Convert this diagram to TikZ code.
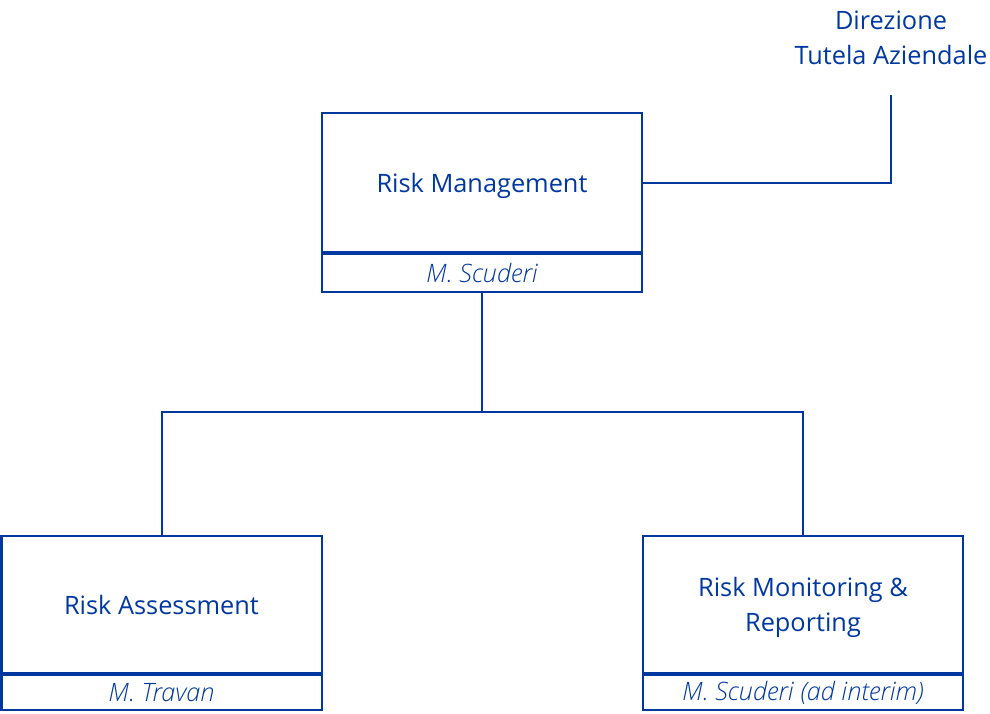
\documentclass[tikz,border=0pt]{standalone}
\usepackage{fontspec}
\setmainfont{Open Sans}
\newfontfamily\lightfont{Open Sans Light}
\usetikzlibrary{positioning}
\definecolor{orgblue}{RGB}{0,56,160}

\begin{document}
\begin{tikzpicture}[
    x=0.75pt, y=-0.75pt,
    node distance=0pt,
    unitbox/.style={draw=orgblue, line width=1.5pt, rectangle, align=center, text=orgblue, minimum width=240pt, minimum height=104pt, inner sep=0pt, text depth=0pt, font=\fontsize{19}{26}\selectfont},
    headbox/.style={draw=orgblue, line width=1.5pt, rectangle, text=orgblue, minimum width=240pt, minimum height=28.5pt, inner sep=0pt, font=\fontsize{19}{22}\selectfont\lightfont\itshape},
    link/.style={draw=orgblue, line width=1.5pt},
    divider/.style={draw=orgblue, line width=2.6pt}
]
\useasboundingbox (0,0) rectangle (990,714);

% Top unit
\node[unitbox] (riskman) at (482,182.5) {Risk Management};
\node[headbox, below=of riskman] (riskmanhead) {M. Scuderi};

% Parent direction (top right)
\node[align=center, text=orgblue, font=\fontsize{19}{26}\selectfont] (direz) at (891,38) {Direzione\\Tutela Aziendale};
\coordinate (direzfoot) at (891,95);

% Child units
\node[unitbox, minimum height=102.75pt] (assess) at (161.5,604.5) {Risk Assessment};
\node[headbox, minimum height=26.25pt, below=of assess] (assesshead) {M. Travan};

\node[unitbox, minimum height=102.75pt] (monitor) at (803,604.5) {Risk Monitoring \&\\Reporting};
\node[headbox, minimum height=26.25pt, below=of monitor] (monitorhead) {M. Scuderi (ad interim)};

% Dividers
\draw[divider] (riskman.south west) -- (riskman.south east);
\draw[divider] (assess.south west) -- (assess.south east);
\draw[divider] (monitor.south west) -- (monitor.south east);

% Connectors
\coordinate (split) at (482,412);
\draw[link] (riskman.east) -| (direzfoot);
\draw[link] (riskmanhead.south) -- (split);
\draw[link] (split) -| (assess.north);
\draw[link] (split) -| (monitor.north);

\end{tikzpicture}
\end{document}
